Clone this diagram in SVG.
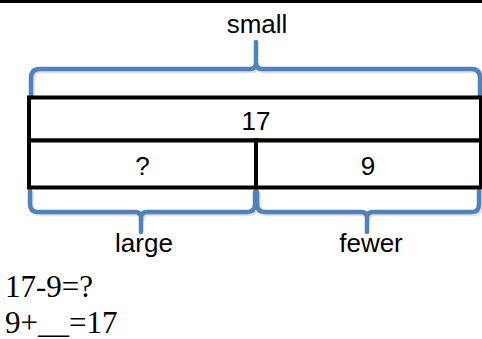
<svg xmlns="http://www.w3.org/2000/svg" width="482" height="339" viewBox="0 0 482 339">
<style>
.lbl{font-family:"Liberation Sans",Arial,sans-serif;font-size:26px;fill:#000;text-anchor:middle}
.eq{font-family:"Liberation Serif","Times New Roman",serif;font-size:31px;fill:#000}
.box{fill:#fff;stroke:#000;stroke-width:4}
.brace{fill:none;stroke:#4F81BD;stroke-width:4.5;stroke-linecap:round;stroke-linejoin:round}
.shadow{fill:none;stroke:#000;stroke-opacity:0.12;stroke-width:4.5;stroke-linecap:round}
</style>
<rect x="0" y="0" width="482" height="339" fill="#fff"/>
<line x1="0" y1="1.5" x2="482" y2="1.5" stroke="#000" stroke-width="3"/>
<g id="connectors">
  <g transform="translate(1.5,2)">
    <path class="shadow" d="M31,97 V78 Q31,69 40,69 H250 Q256,69 256,63 M256,63 Q256,69 262,69 H472 Q480,69 480,78 V97"/>
    <path class="shadow" d="M30,191 V204 Q30,212 38,212 H135 Q141,212 141,218 M141,218 Q141,212 147,212 H247 Q255,212 255,204 V192 M257,192 V204 Q257,212 265,212 H361 Q367,212 367,218 M367,218 Q367,212 373,212 H472 Q479,212 479,204 V191"/>
  </g>
  <path id="brace-small" class="brace" d="M31,97 V78 Q31,69 40,69 H250 Q256,69 256,63 V42 M256,63 Q256,69 262,69 H472 Q480,69 480,78 V97"/>
  <path id="brace-large" class="brace" d="M30,191 V204 Q30,212 38,212 H135 Q141,212 141,218 V232 M141,218 Q141,212 147,212 H247 Q255,212 255,204 V192"/>
  <path id="brace-fewer" class="brace" d="M257,192 V204 Q257,212 265,212 H361 Q367,212 367,218 V232 M367,218 Q367,212 373,212 H472 Q479,212 479,204 V191"/>
</g>
<g id="node-total">
  <rect class="box" x="29" y="97.5" width="452" height="43"/>
  <text class="lbl" x="256" y="130">17</text>
</g>
<g id="node-unknown">
  <rect class="box" x="29" y="140.5" width="227" height="47"/>
  <text class="lbl" x="142.5" y="175">?</text>
</g>
<g id="node-nine">
  <rect class="box" x="256" y="140.5" width="225" height="47"/>
  <text class="lbl" x="368" y="175">9</text>
</g>
<g id="label-small"><text class="lbl" x="257" y="33">small</text></g>
<g id="label-large"><text class="lbl" x="144" y="252">large</text></g>
<g id="label-fewer"><text class="lbl" x="371" y="252">fewer</text></g>
<g id="equations">
  <text class="eq" x="5" y="297">17-9=?</text>
  <text class="eq" x="5" y="333">9+__=17</text>
</g>
</svg>
